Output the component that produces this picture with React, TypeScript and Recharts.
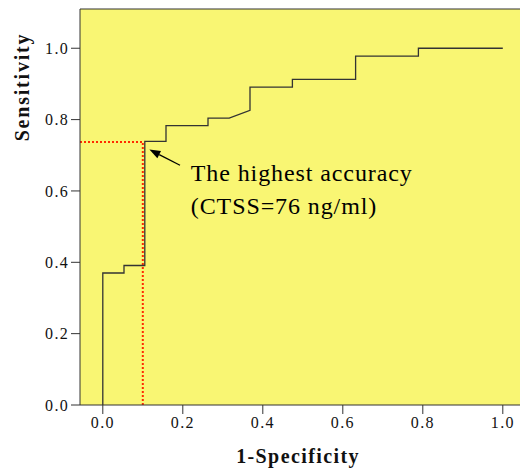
import React from 'react';
import {
  LineChart,
  Line,
  XAxis,
  YAxis,
  ReferenceArea,
  ReferenceLine,
  ReferenceDot,
  Label,
} from 'recharts';

// ROC curve corners (1-specificity, sensitivity)
const rocFpr = [0, 0, 0.053, 0.053, 0.105, 0.105, 0.158, 0.158, 0.263, 0.263, 0.316, 0.368, 0.368, 0.474, 0.474, 0.632, 0.632, 0.789, 0.789, 1];
const rocTpr = [0, 0.37, 0.37, 0.391, 0.391, 0.739, 0.739, 0.783, 0.783, 0.804, 0.804, 0.826, 0.891, 0.891, 0.913, 0.913, 0.978, 0.978, 1, 1];

// cut-off marker (highest accuracy)
const cutFpr = 0.1;
const cutTpr = 0.737;

const xTicks = [0, 0.2, 0.4, 0.6, 0.8, 1.0];
const yTicks = [0, 0.2, 0.4, 0.6, 0.8, 1.0];
const xDomain = [-0.057, 1.043];
const yDomain = [0, 1.11];

const noteLines = ['The highest accuracy', '(CTSS=76 ng/ml)'];
const arrowFrom = { x: 0.193, y: 0.672 };
const arrowTo = { x: 0.1165, y: 0.716 };

const rocData = rocFpr.map((x, i) => ({ x, y: rocTpr[i] }));
const cutV = [{ x: cutFpr, y: 0 }, { x: cutFpr, y: cutTpr }];
const cutH = [{ x: xDomain[0], y: cutTpr }, { x: cutFpr, y: cutTpr }];

const SERIF = '"Liberation Serif", "Times New Roman", serif';
const YELLOW = '#F9F673';
const INK = '#333333';
const RED = '#FF2A00';

const tickStyle = { fill: '#111', fontSize: 16, fontFamily: SERIF, letterSpacing: 1.3 };

function Arrow(props: any) {
  const { x1, y1, x2, y2 } = props;
  const ang = Math.atan2(y2 - y1, x2 - x1);
  const len = 11;
  const w = 4;
  const bx = x2 - len * Math.cos(ang);
  const by = y2 - len * Math.sin(ang);
  const px = -Math.sin(ang) * w;
  const py = Math.cos(ang) * w;
  return (
    <g>
      <line x1={x1} y1={y1} x2={bx} y2={by} stroke="#000" strokeWidth={1.3} />
      <polygon points={`${x2},${y2} ${bx + px},${by + py} ${bx - px},${by - py}`} fill="#000" />
    </g>
  );
}

function Note(props: any) {
  const { cx, cy } = props;
  return (
    <text x={cx} y={cy} fontFamily={SERIF} fontSize={24} fill="#000" letterSpacing={0.9}>
      {noteLines.map((t, i) => (
        <tspan key={t} x={cx} dy={i === 0 ? 0 : 33}>
          {t}
        </tspan>
      ))}
    </text>
  );
}

export default function App() {
  return (
    <div style={{ position: 'absolute', left: 0, top: 0, width: 520, height: 473, background: '#fff' }}>
      <LineChart
        width={520}
        height={473}
        margin={{ top: 9, right: 0, bottom: 38, left: 20 }}
      >
        <ReferenceArea
          x1={xDomain[0]}
          x2={xDomain[1]}
          y1={yDomain[0]}
          y2={yDomain[1]}
          fill={YELLOW}
          fillOpacity={1}
          stroke="none"
        />
        <XAxis
          type="number"
          dataKey="x"
          domain={xDomain}
          ticks={xTicks}
          allowDataOverflow
          tickFormatter={(v) => v.toFixed(1)}
          tick={tickStyle}
          tickSize={9}
          tickMargin={3}
          stroke={INK}
          height={30}
        >
          <Label
            content={(p: any) => (
              <text
                x={p.viewBox.x + p.viewBox.width / 2 - 2}
                y={463}
                textAnchor="middle"
                fontFamily={SERIF}
                fontWeight="bold"
                fontSize={20}
                letterSpacing={1.4}
                fill="#111"
              >
                1-Specificity
              </text>
            )}
          />
        </XAxis>
        <YAxis
          type="number"
          dataKey="y"
          domain={yDomain}
          ticks={yTicks}
          allowDataOverflow
          tickFormatter={(v) => v.toFixed(1)}
          tick={tickStyle}
          tickSize={9}
          tickMargin={2}
          stroke={INK}
          width={60}
        >
          <Label
            content={() => (
              <text
                x={0}
                y={0}
                transform="translate(29,87) rotate(-90)"
                textAnchor="middle"
                fontFamily={SERIF}
                fontWeight="bold"
                fontSize={20}
                letterSpacing={1.8}
                fill="#111"
              >
                Sensitivity
              </text>
            )}
          />
        </YAxis>
        <ReferenceLine y={yDomain[1]} stroke={INK} strokeWidth={1.2} />
        <Line
          data={cutV}
          dataKey="y"
          stroke={RED}
          strokeWidth={2}
          strokeDasharray="2 2"
          dot={false}
          isAnimationActive={false}
        />
        <Line
          data={cutH}
          dataKey="y"
          stroke={RED}
          strokeWidth={2}
          strokeDasharray="2 2"
          dot={false}
          isAnimationActive={false}
        />
        <Line
          data={rocData}
          dataKey="y"
          type="linear"
          stroke={INK}
          strokeWidth={1.3}
          dot={false}
          isAnimationActive={false}
        />
        <ReferenceLine
          segment={[arrowFrom, arrowTo]}
          shape={(p: any) => <Arrow {...p} />}
        />
        <ReferenceDot x={0.22} y={0.629} r={0} shape={(p: any) => <Note {...p} />} />
      </LineChart>
    </div>
  );
}
